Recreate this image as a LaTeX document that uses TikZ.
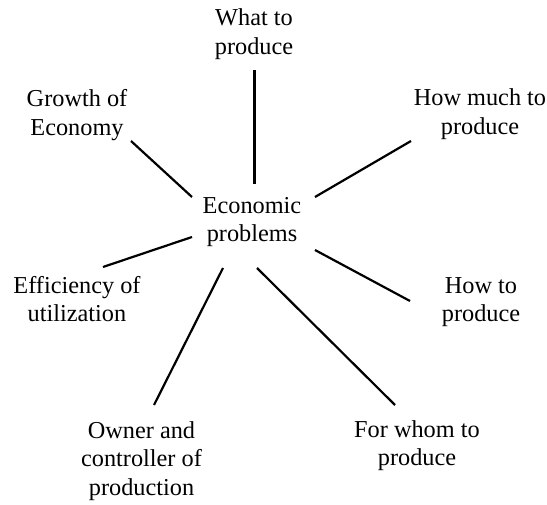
\documentclass[tikz,border=0pt]{standalone}
\usepackage{fontspec}
\setmainfont{Liberation Serif}
\begin{document}
\begin{tikzpicture}[x=1pt,y=-1pt,
  lbl/.style={align=center,inner sep=0pt,font=\fontsize{24.3}{28.5}\selectfont,text=black},
  conn/.style={line width=2.2pt,draw=black}]
\useasboundingbox (0,0) rectangle (547,505);
\node[lbl] (what) at (254,34) {What to\\produce};
\node[lbl] (growth) at (77,115) {Growth of\\Economy};
\node[lbl] (howmuch) at (480,114) {How much to\\produce};
\node[lbl] (econ) at (252,222) {Economic\\problems};
\node[lbl] (eff) at (77,299) {Efficiency of\\utilization};
\node[lbl] (howto) at (481,302) {How to\\produce};
\node[lbl] (owner) at (141.5,461) {Owner and\\controller of\\production};
\node[lbl] (whom) at (417,445.5) {For whom to\\produce};
% connector ends
\coordinate (w1) at (254.5,70);  \coordinate (w2) at (254.5,184);
\coordinate (g1) at (131,141);   \coordinate (g2) at (192,197);
\coordinate (m1) at (411,141);   \coordinate (m2) at (315,197);
\coordinate (e1) at (192,237);   \coordinate (e2) at (103,267);
\coordinate (h1) at (315,250);   \coordinate (h2) at (410,301);
\coordinate (o1) at (223,268);   \coordinate (o2) at (154,405);
\coordinate (f1) at (257,268);   \coordinate (f2) at (395,405);
\draw[conn] (w2) -- (w1);
\draw[conn] (g2) -- (g1);
\draw[conn] (m2) -- (m1);
\draw[conn] (e1) -- (e2);
\draw[conn] (h1) -- (h2);
\draw[conn] (o1) -- (o2);
\draw[conn] (f1) -- (f2);
\end{tikzpicture}
\end{document}
